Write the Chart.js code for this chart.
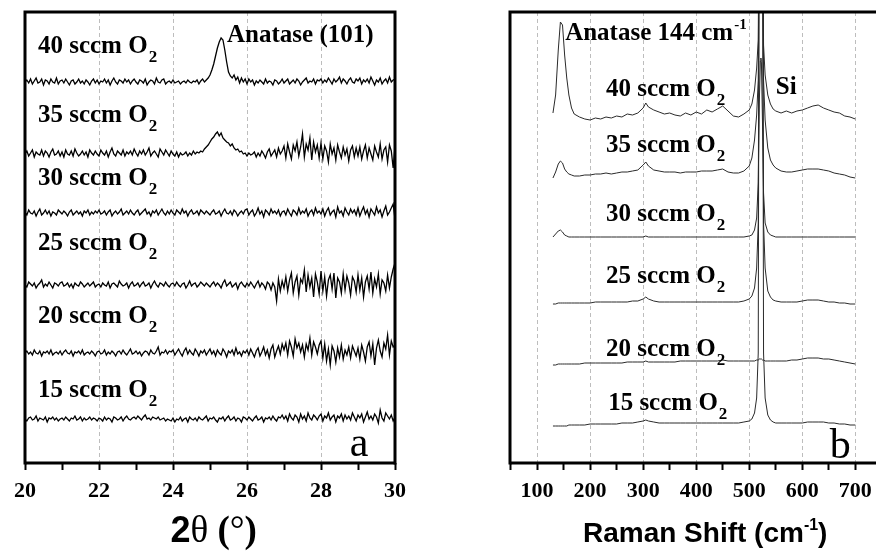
<!DOCTYPE html>
<html>
<head>
<meta charset="utf-8">
<script src="https://cdn.jsdelivr.net/npm/chart.js@4.4.1/dist/chart.umd.min.js"></script>
<style>
  html, body { margin: 0; padding: 0; background: #fff; }
  body { width: 876px; height: 554px; position: relative; overflow: hidden; }
  canvas { position: absolute; top: 0; }
  #xrdChart { left: 0; }
  #ramanChart { left: 440px; }
</style>
</head>
<body>
<canvas id="xrdChart" width="440" height="554"></canvas>
<canvas id="ramanChart" width="460" height="554"></canvas>
<script>
// ---- (a) XRD, 2theta 20..30 deg, one reading every 0.05 deg ----
const xrdStart = 20;
const xrdStep = 0.05;
const xrdFlows = ['15', '20', '25', '30', '35', '40'];
// vertical offset of each pattern in the stack (a.u.)
const xrdOffsets = [44, 110, 178, 250, 309, 381];

const xrd15 = [
  0,-2,1,2,-1,0,3,-2,1,0,-1,2,-3,1,0,2,-1,1,-2,0,
  1,-1,2,0,-2,1,0,3,-1,0,2,-2,1,-1,0,2,-1,1,0,-2,
  1,0,-2,2,-1,1,0,-3,2,1,-1,0,2,-2,1,3,0,-1,1,2,
  0,3,1,-1,2,4,0,1,-1,2,1,0,2,-1,0,1,-2,0,-1,-2,
  1,-3,0,-1,2,-2,0,1,-3,2,0,-1,1,-2,2,0,-1,1,3,-2,
  1,0,2,-1,-3,1,0,2,-2,1,3,-1,0,2,-2,1,0,-3,2,1,
  -1,2,0,-2,1,3,-1,0,2,-3,1,0,2,-1,3,0,-2,2,1,4,
  0,3,-2,5,1,-1,4,2,-3,5,0,3,-2,6,1,-1,4,2,-1,3,
  5,-2,3,1,6,-1,2,4,-3,3,1,5,-2,4,0,3,-1,6,2,-2,
  4,1,5,-3,2,7,0,3,-1,5,2,-4,9,1,-2,6,3,0,4,-2,
  2
];
const xrd20 = [
  0,2,-1,1,-2,3,0,-1,2,-3,1,0,2,-1,3,-2,0,1,-1,2,
  -2,1,3,0,-1,2,-3,1,0,2,-1,3,-2,0,1,-1,2,0,-3,1,
  2,-1,0,3,-2,1,-1,2,0,-3,1,2,-1,3,0,-2,1,4,-1,0,
  2,-1,1,-3,0,2,1,-2,3,0,-1,2,6,-2,1,0,3,-1,2,1,
  3,-2,1,4,0,-3,2,5,-1,3,0,-2,4,1,-3,2,0,3,-2,1,
  4,-1,2,-3,3,0,-2,4,1,-4,2,0,3,-2,5,-1,1,-3,2,0,
  3,-2,4,0,-4,2,5,-3,1,6,-2,3,-5,4,8,-4,2,7,-1,9,
  3,10,-2,12,6,-3,14,5,10,1,8,-4,9,3,15,-2,11,6,-1,8,
  12,-5,9,-8,4,-12,7,2,-9,5,-4,8,-6,3,-2,6,-5,7,2,-3,
  5,-6,8,1,-8,6,11,-3,9,-12,5,13,2,-4,10,4,18,-2,12,6,
  8
];
const xrd25 = [
  0,-2,3,1,-1,2,-3,0,2,5,-2,1,-1,3,0,-3,2,1,-1,2,
  3,-1,0,2,-2,1,-3,2,0,-1,3,1,-2,0,2,-1,1,3,-2,0,
  1,-2,2,0,-1,3,-3,1,2,0,-2,4,1,-1,0,2,-3,1,3,-1,
  0,2,-2,1,3,-1,0,2,-3,1,4,0,-2,2,1,-1,3,0,-2,1,
  2,-1,3,0,-2,1,2,-3,0,4,-1,1,2,-2,0,3,1,-1,2,0,
  -2,1,3,-1,2,0,-3,2,5,-1,1,3,-2,0,2,-4,1,3,0,-2,
  2,-1,3,0,-3,1,4,-2,2,0,-4,3,1,-5,2,-2,-16,6,-6,4,
  -3,8,-6,5,12,-8,3,9,-10,6,2,15,-7,10,-2,7,-12,11,3,-9,
  14,-6,8,-11,5,10,-4,12,-13,7,3,-8,11,-5,9,2,-10,8,4,-7,
  10,-5,7,-12,3,9,-4,13,-8,6,-2,11,-9,5,2,-6,10,-3,8,16,
  22
];
const xrd30 = [
  1,-2,3,0,-1,2,-3,1,4,-2,0,3,-1,2,-3,1,0,-2,3,1,
  -1,2,0,-3,1,3,-2,0,2,-1,1,-3,2,0,3,-2,1,-1,2,0,
  3,-1,0,2,-2,1,3,-3,0,2,-1,1,4,-2,0,2,-1,3,0,-2,
  1,3,-2,0,2,4,-1,1,-3,2,0,3,-2,1,4,0,-2,2,-1,3,
  0,-2,3,1,-1,4,0,2,-3,1,3,-1,0,2,-2,3,1,-1,2,0,
  -2,1,3,-1,0,2,-3,1,4,0,-1,2,-2,3,1,-3,0,2,-1,3,
  4,-2,1,3,-3,0,5,-1,2,-4,3,1,-2,4,0,2,-1,3,-3,1,
  2,-2,4,0,-3,3,1,-2,5,-1,2,0,4,-3,1,3,-2,5,0,2,
  -1,4,-3,2,5,-2,1,3,-4,6,0,2,-3,5,1,-2,4,0,3,-2,
  5,-3,2,6,-1,3,-4,4,1,-2,6,0,3,-4,2,7,-2,1,5,9,
  -6
];
const xrd35 = [
  0,3,-2,1,4,-3,2,0,-1,4,-2,3,1,-3,2,5,-1,0,3,-2,
  2,-3,4,0,-1,3,-2,5,1,-2,0,3,-1,2,-3,4,1,-1,3,0,
  -2,4,1,-1,3,-3,2,6,0,-2,3,1,-1,4,-2,2,0,3,-1,5,
  1,-2,3,0,4,-1,2,6,-2,1,3,0,-3,5,2,-1,4,1,-2,3,
  0,-2,2,-3,1,-1,0,2,-2,1,-1,3,0,2,1,3,2,5,7,9,
  12,15,17,20,22,18,21,16,14,12,11,8,10,6,4,5,2,3,0,1,
  -2,1,-1,0,2,-3,1,-2,3,0,-4,2,5,-2,1,4,-3,6,0,3,
  8,-4,10,2,-5,9,3,12,-2,7,20,-3,10,4,16,-6,12,2,9,-4,
  11,-5,8,3,-8,10,0,6,-6,9,2,-4,7,-1,5,-7,4,8,-3,6,
  -2,7,-5,3,9,-4,6,0,-6,8,2,-3,10,-5,4,7,-8,9,3,-14,
  8
];
const xrd40 = [
  0,2,-1,3,-2,1,4,-1,0,3,-3,2,1,-2,3,0,-1,4,-2,1,
  2,-1,3,0,-3,1,2,-2,0,3,-1,1,-2,2,0,-3,1,3,-1,2,
  -2,1,0,3,-1,2,-3,1,4,0,-2,2,1,-1,3,0,2,-2,1,3,
  0,-2,2,1,-1,3,-3,0,2,1,-2,4,0,-1,2,3,-2,0,1,-1,
  2,-1,0,1,-2,0,1,-1,2,0,-1,1,0,2,-2,1,3,0,2,4,
  7,12,18,26,34,40,44,42,32,20,10,6,4,7,2,5,-1,4,0,3,
  -2,3,0,2,-3,1,-1,2,0,-2,3,-1,1,0,-3,2,1,-2,0,3,
  -1,1,3,-2,0,2,-1,3,1,-3,0,2,4,-1,1,0,3,-2,2,1,
  3,-1,2,0,4,1,-2,3,0,2,5,-1,3,1,-2,2,4,0,-1,3,
  1,4,-2,2,0,3,-1,5,1,-3,2,0,4,-2,1,3,-1,5,0,2,
  3
];
const xrdTicks = [20, 21, 22, 23, 24, 25, 26, 27, 28, 29, 30];

// ---- (b) Raman, shift in cm-1 ----
const ramanX = [
  130,135,140,144,148,152,156,160,165,170,
  180,190,200,210,220,230,240,250,260,270,
  280,290,300,305,310,320,330,340,350,360,
  370,380,390,400,410,420,430,440,450,460,
  470,480,490,500,505,510,514,517,519,521,
  522,523,525,527,530,535,540,545,550,560,
  570,580,590,600,610,620,630,640,650,660,
  670,680,690,700
];
const raman40 = [
  350,368,413,441,438,408,385,368,355,349,
  346,344,343,345,344,346,345,347,346,349,
  348,350,355,360,356,353,351,349,350,348,
  347,350,348,351,349,353,351,354,357,352,
  347,346,349,353,359,373,395,423,600,1500,
  2000,1500,600,418,388,368,359,354,352,350,
  352,350,352,353,355,357,358,355,353,351,
  350,347,346,344
];
const raman35 = [
  285,291,299,302,300,294,291,289,288,287,
  287,288,288,289,289,290,289,290,291,291,
  292,293,298,301,297,293,292,291,291,291,
  290,291,291,291,292,292,292,293,294,291,
  290,290,292,297,305,323,348,383,600,1500,
  2000,1500,600,383,343,315,303,298,295,292,
  291,291,292,293,294,294,294,293,292,290,
  289,288,286,285
];
const raman30 = [
  226,229,232,233,231,228,227,226,226,226,
  226,226,226,226,226,226,226,226,226,226,
  226,226,226,227,226,226,226,226,226,226,
  226,226,226,226,226,226,226,226,226,226,
  226,226,226,227,228,233,245,280,360,402,
  405,400,340,270,240,231,228,227,226,226,
  226,226,226,226,226,226,226,226,226,226,
  226,226,226,226
];
const raman25 = [
  159,159,160,160,160,160,160,160,160,160,
  160,160,160,161,161,161,161,161,161,161,
  162,162,164,166,164,162,161,161,161,161,
  161,161,161,161,161,161,161,161,161,161,
  161,161,162,164,167,175,195,240,600,1500,
  2000,1500,600,240,195,172,166,163,162,161,
  161,161,161,162,163,163,163,162,161,161,
  160,160,159,159
];
const raman20 = [
  98,98,99,99,99,99,99,99,99,99,
  99,100,100,100,100,100,100,100,100,101,
  101,101,101,102,101,101,101,101,101,101,
  102,102,102,102,102,102,102,102,103,102,
  102,102,102,102,102,102,103,103,104,104,
  104,104,103,103,102,102,102,102,102,102,
  102,103,103,104,105,105,105,104,104,103,
  102,101,100,99
];
const raman15 = [
  37,37,37,37,37,37,37,38,38,38,
  38,38,39,39,39,39,39,39,40,40,
  40,41,42,43,42,41,40,40,40,40,
  40,40,40,40,40,40,40,40,40,40,
  40,40,41,42,44,50,65,110,600,1500,
  2000,1500,600,110,65,48,43,41,40,40,
  40,40,40,40,41,41,41,41,40,40,
  39,39,38,38
];
const ramanTicks = [50,100,150,200,250,300,350,400,450,500,550,600,650,700];

// ---- annotations ----
const serif = '"Liberation Serif", "Times New Roman", serif';
const sans = '"Liberation Sans", Arial, sans-serif';

const xrdNotes = [
  { text: '40 sccm O', sub: '2', x: 20.35, y: 410 },
  { text: '35 sccm O', sub: '2', x: 20.35, y: 341 },
  { text: '30 sccm O', sub: '2', x: 20.35, y: 278 },
  { text: '25 sccm O', sub: '2', x: 20.35, y: 213 },
  { text: '20 sccm O', sub: '2', x: 20.35, y: 140 },
  { text: '15 sccm O', sub: '2', x: 20.35, y: 66 },
  { text: 'Anatase (101)', x: 25.46, y: 421 }
];
const ramanNotes = [
  { text: '40 sccm O', sub: '2', x: 230, y: 367 },
  { text: '35 sccm O', sub: '2', x: 230, y: 311 },
  { text: '30 sccm O', sub: '2', x: 230, y: 242 },
  { text: '25 sccm O', sub: '2', x: 230, y: 180 },
  { text: '20 sccm O', sub: '2', x: 230, y: 107 },
  { text: '15 sccm O', sub: '2', x: 234, y: 53 },
  { text: 'Anatase 144 cm', sup: '-1', x: 153, y: 423 },
  { text: 'Si', x: 550, y: 369 }
];

function drawNote(ctx, n, px, py) {
  ctx.font = `bold 25px ${serif}`;
  ctx.fillText(n.text, px, py);
  const w = ctx.measureText(n.text).width;
  if (n.sub) {
    ctx.font = `bold 17px ${serif}`;
    ctx.fillText(n.sub, px + w + 1, py + 9);
  }
  if (n.sup) {
    ctx.font = `bold 15px ${serif}`;
    ctx.fillText(n.sup, px + w + 1, py - 11);
  }
}

function drawTitle(ctx, parts, cx, baseline) {
  let total = 0;
  parts.forEach(p => { ctx.font = p.font; p.w = ctx.measureText(p.t).width; total += p.w; });
  let px = cx - total / 2;
  parts.forEach(p => {
    ctx.font = p.font;
    ctx.fillText(p.t, px, baseline + (p.dy || 0));
    px += p.w;
  });
}

function decor(notes, titleParts, titleValue, letter, closed) {
  return {
    id: 'decor',
    afterDraw(chart) {
      const { ctx, chartArea: a, scales: { x, y } } = chart;
      ctx.save();
      ctx.strokeStyle = '#000';
      ctx.lineWidth = 3;
      ctx.beginPath();
      ctx.moveTo(a.left, a.bottom + 1.5);
      ctx.lineTo(a.left, a.top);
      ctx.lineTo(a.right, a.top);
      if (closed) ctx.lineTo(a.right, a.bottom + 1.5);
      ctx.stroke();
      ctx.beginPath();
      ctx.moveTo(a.left, a.bottom);
      ctx.lineTo(a.right, a.bottom);
      ctx.stroke();

      ctx.fillStyle = '#000';
      ctx.textAlign = 'left';
      ctx.textBaseline = 'alphabetic';
      notes.forEach(n => drawNote(ctx, n, x.getPixelForValue(n.x), y.getPixelForValue(n.y)));

      ctx.font = `42px ${serif}`;
      ctx.fillText(letter.text, x.getPixelForValue(letter.x), y.getPixelForValue(letter.y));

      drawTitle(ctx, titleParts, x.getPixelForValue(titleValue), 542);
      ctx.restore();
    }
  };
}

function xScale(min, max, ticks, showLabel, showGrid) {
  return {
    type: 'linear',
    min: min,
    max: max,
    afterBuildTicks: axis => { axis.ticks = ticks.map(v => ({ value: v })); },
    afterFit: axis => { axis.height = 91; },
    ticks: {
      autoSkip: false,
      maxRotation: 0,
      padding: 8,
      color: '#000',
      font: { family: serif, size: 22, weight: 'bold' },
      callback: v => (showLabel(v) ? String(v) : '')
    },
    grid: {
      color: c => (c.tick && showGrid(c.tick.value) ? '#bdbdbd' : 'rgba(0,0,0,0)'),
      lineWidth: 1,
      tickColor: '#000',
      tickWidth: 2,
      tickLength: 7
    },
    border: { display: false, dash: [4, 3] }
  };
}

const commonOptions = {
  responsive: false,
  animation: false,
  plugins: { legend: { display: false }, tooltip: { enabled: false } },
  elements: { point: { radius: 0 }, line: { tension: 0, borderWidth: 1 } }
};

// panel a
const xrdSeries = [xrd15, xrd20, xrd25, xrd30, xrd35, xrd40];
new Chart(document.getElementById('xrdChart'), {
  type: 'line',
  data: {
    datasets: xrdSeries.map((vals, k) => ({
      label: xrdFlows[k] + ' sccm O2',
      data: vals.map((v, i) => ({ x: xrdStart + i * xrdStep, y: v + xrdOffsets[k] })),
      borderColor: '#000',
      borderWidth: 1.3
    }))
  },
  options: Object.assign({}, commonOptions, {
    layout: { padding: { left: 25, right: 45, top: 12, bottom: 0 } },
    scales: {
      x: xScale(20, 30, xrdTicks, v => v % 2 === 0, v => v % 2 === 0 && v > 20 && v < 30),
      y: { display: false, min: 0, max: 451 }
    }
  }),
  plugins: [decor(
    xrdNotes,
    [
      { t: '2', font: `bold 36px ${sans}` },
      { t: '\u03B8 ', font: `37px ${serif}` },
      { t: '(', font: `bold 37px ${serif}` },
      { t: '\u00B0', font: `37px ${serif}` },
      { t: ')', font: `bold 37px ${serif}` }
    ],
    25.1,
    { text: 'a', x: 28.78, y: 7 },
    true
  )]
});

// panel b
const ramanSeries = [raman15, raman20, raman25, raman30, raman35, raman40];
new Chart(document.getElementById('ramanChart'), {
  type: 'line',
  data: {
    datasets: ramanSeries.map((vals, k) => ({
      label: xrdFlows[k] + ' sccm O2',
      data: vals.map((v, i) => ({ x: ramanX[i], y: v })),
      borderColor: '#2a2a2a'
    }))
  },
  options: Object.assign({}, commonOptions, {
    layout: { padding: { left: 70, right: 24, top: 12, bottom: 0 } },
    scales: {
      x: xScale(49, 739, ramanTicks, v => v % 100 === 0, v => v % 100 === 0),
      y: { display: false, min: 0, max: 451 }
    }
  }),
  plugins: [decor(
    ramanNotes,
    [
      { t: 'Raman Shift (cm', font: `bold 28px ${sans}` },
      { t: '-1', font: `bold 16px ${sans}`, dy: -12 },
      { t: ')', font: `bold 28px ${sans}` }
    ],
    417,
    { text: 'b', x: 652, y: 5 },
    false
  )]
});
</script>
</body>
</html>
